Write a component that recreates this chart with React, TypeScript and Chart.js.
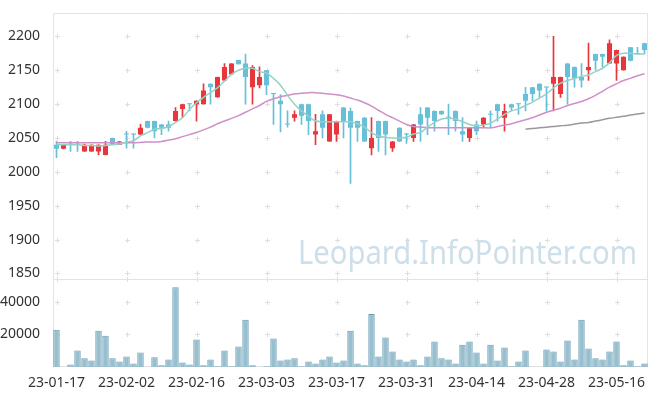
import React, { useEffect, useRef } from 'react';
import { Chart, registerables } from 'chart.js';

Chart.register(...registerables);

const dates = [
  '23-01-17', '23-01-18', '23-01-19', '23-01-20', '23-01-25', '23-01-26', '23-01-27', '23-01-30', '23-01-31',
  '23-02-01', '23-02-02', '23-02-03', '23-02-06', '23-02-07', '23-02-08', '23-02-09', '23-02-10', '23-02-13',
  '23-02-14', '23-02-15', '23-02-16', '23-02-17', '23-02-20', '23-02-21', '23-02-22', '23-02-23', '23-02-24',
  '23-02-27', '23-02-28', '23-03-02', '23-03-03', '23-03-06', '23-03-07', '23-03-08', '23-03-09', '23-03-10',
  '23-03-13', '23-03-14', '23-03-15', '23-03-16', '23-03-17', '23-03-20', '23-03-21', '23-03-22', '23-03-23',
  '23-03-24', '23-03-27', '23-03-28', '23-03-29', '23-03-30', '23-03-31', '23-04-03', '23-04-04', '23-04-05',
  '23-04-06', '23-04-07', '23-04-10', '23-04-11', '23-04-12', '23-04-13', '23-04-14', '23-04-17', '23-04-18',
  '23-04-19', '23-04-20', '23-04-21', '23-04-24', '23-04-25', '23-04-26', '23-04-27', '23-04-28', '23-05-02',
  '23-05-03', '23-05-04', '23-05-08', '23-05-09', '23-05-10', '23-05-11', '23-05-12', '23-05-15', '23-05-16',
  '23-05-17', '23-05-18', '23-05-19', '23-05-22',
];

const opens = [
  2040, 2034, 2041, 2041, 2030, 2030, 2030, 2025, 2050, 2040,
  2055.5, 2055.5, 2055, 2075, 2075, 2070, 2070, 2075, 2093, 2100.5,
  2100, 2100, 2130, 2110, 2135, 2144, 2165, 2160, 2125, 2128,
  2150, 2116, 2105, 2070.5, 2080, 2100, 2100, 2055, 2085, 2045,
  2055, 2095, 2090, 2075, 2080, 2035, 2075, 2075, 2035, 2065,
  2055.5, 2050, 2085, 2095, 2090, 2090, 2080.5, 2090, 2060, 2050,
  2070, 2070, 2085, 2100, 2080, 2100, 2100.5, 2115, 2125, 2130,
  2125, 2130, 2115, 2160, 2155, 2140, 2150, 2174, 2174, 2160,
  2160, 2150, 2184, 2174.5, 2190,
];

const closes = [
  2034, 2040, 2040, 2040, 2040, 2040, 2040, 2040, 2040, 2045,
  2055, 2055, 2065, 2065, 2060, 2065, 2065, 2090, 2100, 2100,
  2105, 2120, 2125, 2140, 2155, 2160, 2159, 2140, 2155, 2140,
  2128, 2115, 2100, 2070, 2085, 2083, 2075, 2060, 2065, 2085,
  2075, 2075, 2065, 2065, 2045, 2050, 2050, 2055, 2045, 2045,
  2055, 2070, 2070, 2080, 2075, 2085, 2080, 2075, 2055, 2065,
  2060, 2080, 2084.5, 2090, 2090, 2095, 2100, 2105, 2115, 2120,
  2124.5, 2140, 2140, 2140, 2138, 2135, 2155, 2164, 2170, 2190,
  2180, 2170, 2164, 2174, 2180,
];

const highs = [
  2045, 2040, 2045, 2045, 2041, 2040, 2040, 2045, 2050, 2045,
  2060, 2056, 2070, 2075, 2075, 2070, 2075, 2095, 2100, 2101,
  2105, 2130, 2130, 2140, 2160, 2160, 2165, 2174, 2157, 2155,
  2150, 2116, 2114, 2090, 2090, 2100, 2100, 2085, 2090, 2085,
  2075, 2095, 2094, 2075, 2080, 2080, 2075, 2075, 2045, 2065,
  2057, 2070, 2095, 2095, 2090, 2090, 2100, 2090, 2080, 2065,
  2075, 2080, 2090, 2100, 2100, 2100, 2101, 2125, 2125, 2130,
  2125, 2200, 2140, 2160, 2155, 2160, 2190, 2174, 2174, 2195,
  2180, 2170, 2184, 2184, 2190,
];

const lows = [
  2021, 2034, 2030, 2030, 2030, 2030, 2025, 2025, 2040, 2040,
  2035, 2035, 2055, 2065, 2050, 2055, 2060, 2075, 2080, 2090,
  2075, 2100, 2100, 2110, 2135, 2144, 2159, 2100, 2100, 2124,
  2114, 2070, 2059, 2066, 2075, 2070, 2055, 2040, 2050, 2045,
  2045, 2050, 1983, 2045, 2045, 2025, 2030, 2025, 2030, 2045,
  2042, 2045, 2045, 2055, 2060, 2085, 2055, 2060, 2045, 2045,
  2055, 2065, 2065, 2075, 2060, 2090, 2085, 2090, 2105, 2110,
  2090, 2090, 2110, 2100, 2125, 2125, 2135, 2150, 2155, 2160,
  2135, 2150, 2164, 2174, 2174,
];

const volumes = [
  22800, 0, 1600, 10100, 5300, 4000, 22200, 19200, 5300, 3400,
  6500, 2200, 8900, 0, 5900, 1000, 4600, 48900, 2800, 1600,
  16800, 1000, 4600, 400, 10100, 400, 12500, 28900, 1000, 0,
  400, 17400, 4000, 4600, 5300, 400, 3400, 2200, 4600, 6500,
  2800, 4000, 22200, 2200, 1000, 32500, 6500, 18000, 9500, 4600,
  3400, 4600, 1000, 6500, 15600, 5300, 4600, 2200, 13700, 15600,
  8900, 2200, 13700, 4000, 11900, 400, 3400, 10100, 0, 0,
  10700, 9500, 3400, 16200, 4600, 28900, 11300, 5300, 4600, 9500,
  15600, 1000, 4000, 400, 2200,
];

const ma5 = [
  2040, 2040, 2040, 2040, 2039, 2039, 2038, 2039, 2040, 2041,
  2044, 2046, 2053, 2058, 2063, 2064, 2067, 2073, 2080, 2092,
  2102, 2110, 2117, 2124, 2134, 2144, 2150, 2153, 2153, 2148,
  2146, 2138, 2128, 2113, 2100, 2090, 2082, 2075, 2074, 2074,
  2074, 2074, 2074, 2071, 2066, 2058, 2053, 2051, 2050, 2050,
  2051, 2056, 2058, 2066, 2073, 2078, 2079, 2078, 2074, 2070,
  2068, 2069, 2072, 2078, 2085, 2090, 2093, 2098, 2103, 2109,
  2115, 2124, 2131, 2135, 2138, 2141, 2143, 2148, 2153, 2161,
  2172, 2175, 2175, 2174, 2174,
];

const ma20 = [
  2043, 2043, 2043, 2043, 2043, 2043, 2043, 2043, 2043, 2043,
  2043, 2043, 2043.5, 2044, 2044, 2045, 2047, 2049, 2052, 2055,
  2058, 2062, 2066, 2071, 2075, 2079, 2083, 2088, 2093, 2098,
  2104, 2108, 2111, 2113, 2115, 2116, 2117, 2117, 2116, 2115,
  2114, 2112, 2109, 2106, 2102, 2097, 2091, 2085, 2080, 2075,
  2070, 2067, 2066, 2065, 2065, 2065, 2065, 2065, 2065, 2065,
  2065, 2065, 2065, 2067, 2069, 2071, 2074, 2077, 2080, 2084,
  2088, 2091, 2094, 2098, 2101, 2104, 2108, 2113, 2119, 2125,
  2130, 2135, 2138, 2142, 2145,
];

const ma60 = [
  null, null, null, null, null, null, null, null, null, null,
  null, null, null, null, null, null, null, null, null, null,
  null, null, null, null, null, null, null, null, null, null,
  null, null, null, null, null, null, null, null, null, null,
  null, null, null, null, null, null, null, null, null, null,
  null, null, null, null, null, null, null, null, null, null,
  null, null, null, null, null, null, null, 2063, 2064, 2065,
  2066, 2067, 2068, 2069, 2070.5, 2072, 2073, 2075, 2077, 2079,
  2080.5, 2082, 2084, 2085.5, 2087,
];

const priceTicks = [1850, 1900, 1950, 2000, 2050, 2100, 2150, 2200];
const volumeTicks = [20000, 40000];
const watermark = 'Leopard.InfoPointer.com';

const UP = '#e8363c';
const DOWN = '#68bfd8';
const FONT = '"Noto Sans", sans-serif';

const framePlugin = {
  id: 'frameMarks',
  beforeDatasetsDraw(chart: any) {
    const { ctx, chartArea } = chart;
    const x = chart.scales.x;
    const y = chart.scales.y;
    const yv = chart.scales.yv;
    ctx.save();
    // watermark
    ctx.font = '33px ' + FONT;
    ctx.fillStyle = '#cddfea';
    ctx.textAlign = 'center';
    ctx.textBaseline = 'alphabetic';
    ctx.fillText(watermark, chartArea.right - 180.5, y.bottom - 15, 339);
    // cross marks
    const xs: number[] = [];
    dates.forEach((_, i) => {
      if (i % 10 === 0) xs.push(Math.round(x.getPixelForValue(i)) + 0.5);
    });
    const ys: number[] = [
      ...priceTicks.map((v) => y.getPixelForValue(v)),
      ...volumeTicks.map((v) => yv.getPixelForValue(v)),
      y.bottom,
    ].map((p) => Math.round(p) + 0.5);
    ctx.strokeStyle = '#dedede';
    ctx.lineWidth = 1;
    ctx.beginPath();
    xs.forEach((px) => {
      ys.forEach((py) => {
        ctx.moveTo(px - 2.5, py);
        ctx.lineTo(px + 2.5, py);
        ctx.moveTo(px, py - 2.5);
        ctx.lineTo(px, py + 2.5);
      });
    });
    ctx.stroke();
    // frame
    const l = Math.round(chartArea.left) + 0.5;
    const r = Math.round(chartArea.right) - 0.5;
    const t = Math.round(chartArea.top) + 0.5;
    const b = Math.round(chartArea.bottom) - 0.5;
    const s = Math.round(y.bottom) + 0.5;
    ctx.strokeStyle = '#e3e3e3';
    ctx.beginPath();
    ctx.moveTo(l, t);
    ctx.lineTo(r, t);
    ctx.lineTo(r, b);
    ctx.lineTo(l, b);
    ctx.lineTo(l, t);
    ctx.moveTo(l, s);
    ctx.lineTo(r, s);
    ctx.stroke();
    ctx.restore();
  },
};

export default function App() {
  const ref = useRef<HTMLCanvasElement>(null);

  useEffect(() => {
    if (!ref.current) return;
    const colors = opens.map((o, i) => (closes[i] > o ? UP : DOWN));
    const bodies = opens.map((o, i) => [Math.min(o, closes[i]), Math.max(o, closes[i])]);
    const wicks = lows.map((lo, i) => [lo, highs[i]]);

    const tickFont = { family: FONT, size: 14 };
    const plain = (v: any) => String(v);

    const chart = new Chart(ref.current, {
      type: 'bar',
      data: {
        labels: dates,
        datasets: [
          {
            type: 'line', label: 'MA5', data: ma5, yAxisID: 'y',
            borderColor: '#95d2c6', borderWidth: 1.5, pointRadius: 0, tension: 0.25, order: 0,
          },
          {
            type: 'line', label: 'MA20', data: ma20, yAxisID: 'y',
            borderColor: '#cf8fc8', borderWidth: 1.5, pointRadius: 0, tension: 0.25, order: 0,
          },
          {
            type: 'line', label: 'MA60', data: ma60, yAxisID: 'y',
            borderColor: '#999999', borderWidth: 1.5, pointRadius: 0, tension: 0.25, order: 0,
          },
          {
            type: 'bar', label: 'body', data: bodies, yAxisID: 'y',
            backgroundColor: colors, borderWidth: 0, grouped: false,
            barPercentage: 0.72, categoryPercentage: 1, minBarLength: 1, order: 1,
          },
          {
            type: 'bar', label: 'wick', data: wicks, yAxisID: 'y',
            backgroundColor: colors, borderWidth: 0, grouped: false,
            barThickness: 1, order: 2,
          },
          {
            type: 'bar', label: 'volume', data: volumes, yAxisID: 'yv',
            backgroundColor: '#97bfcf', borderColor: '#6a9cb4', borderWidth: 1,
            grouped: false, barPercentage: 0.92, categoryPercentage: 1, order: 3,
          },
        ] as any,
      },
      options: {
        responsive: false,
        animation: false,
        layout: { padding: { top: 10, right: 9, left: 0, bottom: 0 } },
        plugins: { legend: { display: false }, tooltip: { enabled: false } },
        scales: {
          x: {
            type: 'category',
            offset: true,
            grid: { display: false },
            border: { display: false },
            ticks: {
              autoSkip: false, maxRotation: 0, minRotation: 0, padding: 0,
              color: '#333', font: tickFont,
              callback: (_v: any, i: number) => (i % 10 === 0 ? dates[i] : ''),
            },
            afterFit: (s: any) => { s.height = 29; },
          },
          yv: {
            type: 'linear', position: 'left', stack: 'panes', stackWeight: 89,
            min: 0, max: 54000,
            grid: { display: false }, border: { display: false },
            ticks: { color: '#333', font: tickFont, padding: 5, callback: plain },
            afterBuildTicks: (s: any) => { s.ticks = volumeTicks.map((v) => ({ value: v })); },
            afterFit: (s: any) => { s.width = 53; },
          },
          y: {
            type: 'linear', position: 'left', stack: 'panes', stackWeight: 268,
            min: 1842, max: 2234,
            grid: { display: false }, border: { display: false },
            ticks: { color: '#333', font: tickFont, padding: 5, callback: plain },
            afterBuildTicks: (s: any) => { s.ticks = priceTicks.map((v) => ({ value: v })); },
            afterFit: (s: any) => { s.width = 53; },
          },
        } as any,
      },
      plugins: [framePlugin],
    });
    return () => chart.destroy();
  }, []);

  return (
    <div style={{ position: 'absolute', left: 0, top: 0, width: 657, height: 396, background: '#fff' }}>
      <canvas ref={ref} width={657} height={396} style={{ width: 657, height: 396, display: 'block' }} />
    </div>
  );
}
